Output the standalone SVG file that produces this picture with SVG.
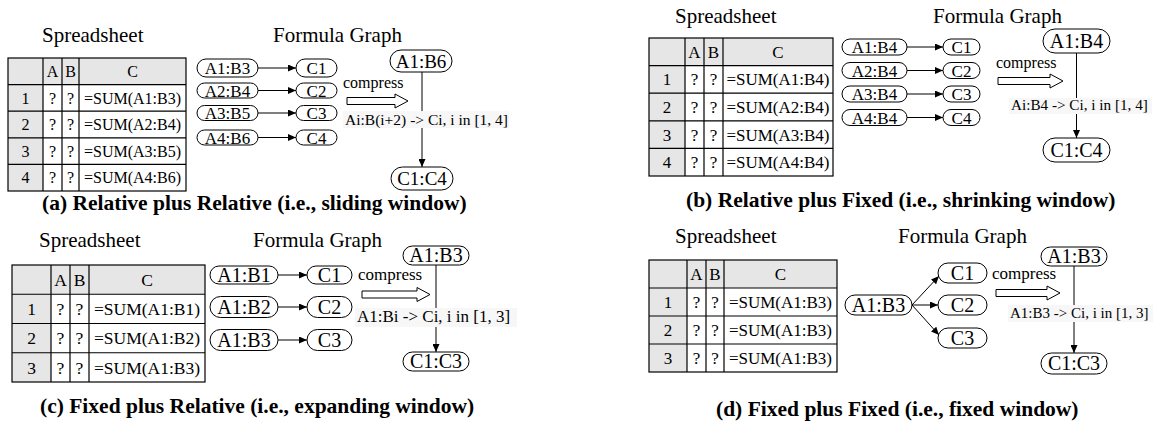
<svg xmlns="http://www.w3.org/2000/svg" width="1153" height="423" viewBox="0 0 1153 423" font-family="'Liberation Serif', 'Times New Roman', 'DejaVu Serif', serif">
<style>
.s{font-family:'Liberation Serif','Times New Roman','DejaVu Serif',serif}
.ttl{font-size:21px}
.cap{font-size:21.5px;font-weight:bold}
.tc{text-anchor:middle}
.hd{fill:#e6e6e6}
.gl{stroke:#000;stroke-width:1.2;fill:none}
.pill{fill:#fff;stroke:#000;stroke-width:1}
.edge{stroke:#000;stroke-width:1;fill:none;marker-end:url(#ah)}
.hol{fill:#fff;stroke:#000;stroke-width:1}
.lbg{fill:#f7f7f7}
</style>
<defs>
<marker id="ah" markerUnits="userSpaceOnUse" markerWidth="8" markerHeight="7" refX="8" refY="3.5" orient="auto"><path d="M0,0 L8,3.5 L0,7 z" fill="#000"/></marker>
</defs>

<!-- Panel (a) -->
<g id="panel-a" class="s">
<text class="ttl" x="42" y="42">Spreadsheet</text>
<text class="ttl" x="273" y="42">Formula Graph</text>
<g id="table-a" font-size="16">
<rect class="hd" x="8" y="58" width="178" height="26.6"/>
<rect class="hd" x="8" y="58" width="35" height="133"/>
<rect class="gl" x="8" y="58" width="178" height="133"/>
<path class="gl" d="M8,84.6H186M8,111.2H186M8,137.8H186M8,164.4H186M43,58V191M62,58V191M79,58V191"/>
<text class="tc" x="52.5" y="76.9">A</text><text class="tc" x="70.5" y="76.9">B</text><text class="tc" x="132.5" y="76.9">C</text>
<text class="tc" x="25.5" y="103.5">1</text><text class="tc" x="52.5" y="103.5">?</text><text class="tc" x="70.5" y="103.5">?</text><text class="tc" x="132.5" y="103.5">=SUM(A1:B3)</text>
<text class="tc" x="25.5" y="130.1">2</text><text class="tc" x="52.5" y="130.1">?</text><text class="tc" x="70.5" y="130.1">?</text><text class="tc" x="132.5" y="130.1">=SUM(A2:B4)</text>
<text class="tc" x="25.5" y="156.7">3</text><text class="tc" x="52.5" y="156.7">?</text><text class="tc" x="70.5" y="156.7">?</text><text class="tc" x="132.5" y="156.7">=SUM(A3:B5)</text>
<text class="tc" x="25.5" y="183.3">4</text><text class="tc" x="52.5" y="183.3">?</text><text class="tc" x="70.5" y="183.3">?</text><text class="tc" x="132.5" y="183.3">=SUM(A4:B6)</text>
</g>
<g id="a-A1B3"><rect class="pill" x="197" y="59" width="61" height="18" rx="9"/><text class="tc" x="227.5" y="74" font-size="17">A1:B3</text></g>
<g id="a-A2B4"><rect class="pill" x="197" y="83" width="61" height="15" rx="7.5"/><text class="tc" x="227.5" y="96.5" font-size="17">A2:B4</text></g>
<g id="a-A3B5"><rect class="pill" x="197" y="105.5" width="61" height="15" rx="7.5"/><text class="tc" x="227.5" y="119" font-size="17">A3:B5</text></g>
<g id="a-A4B6"><rect class="pill" x="197" y="130" width="61" height="15" rx="7.5"/><text class="tc" x="227.5" y="143.5" font-size="17">A4:B6</text></g>
<g id="a-C1"><rect class="pill" x="296" y="59" width="41" height="18" rx="9"/><text class="tc" x="316.5" y="74" font-size="17">C1</text></g>
<g id="a-C2"><rect class="pill" x="296" y="83" width="41" height="15" rx="7.5"/><text class="tc" x="316.5" y="96.5" font-size="17">C2</text></g>
<g id="a-C3"><rect class="pill" x="296" y="105.5" width="41" height="15" rx="7.5"/><text class="tc" x="316.5" y="119" font-size="17">C3</text></g>
<g id="a-C4"><rect class="pill" x="296" y="130" width="41" height="15" rx="7.5"/><text class="tc" x="316.5" y="143.5" font-size="17">C4</text></g>
<g id="a-A1B6"><rect class="pill" x="390" y="50" width="62" height="22" rx="11"/><text class="tc" x="421" y="67.5" font-size="19">A1:B6</text></g>
<g id="a-C1C4"><rect class="pill" x="391" y="167" width="62" height="23" rx="11.5"/><text class="tc" x="422" y="185" font-size="19">C1:C4</text></g>
<text x="343" y="88" font-size="16">compress</text>
<polygon class="hol" points="347,97.5 395,97.5 395,94 408,101 395,108 395,104.5 347,104.5"/>
</g>

<!-- Panel (b) -->
<g id="panel-b" class="s">
<text class="ttl" x="675" y="23">Spreadsheet</text>
<text class="ttl" x="933" y="23">Formula Graph</text>
<g id="table-b" font-size="17">
<rect class="hd" x="649" y="38" width="184" height="27.6"/>
<rect class="hd" x="649" y="38" width="36" height="138"/>
<rect class="gl" x="649" y="38" width="184" height="138"/>
<path class="gl" d="M649,65.6H833M649,93.2H833M649,120.8H833M649,148.4H833M685,38V176M704,38V176M723,38V176"/>
<text class="tc" x="694.5" y="57.8">A</text><text class="tc" x="713.5" y="57.8">B</text><text class="tc" x="778" y="57.8">C</text>
<text class="tc" x="667" y="85.4">1</text><text class="tc" x="694.5" y="85.4">?</text><text class="tc" x="713.5" y="85.4">?</text><text class="tc" x="778" y="85.4">=SUM(A1:B4)</text>
<text class="tc" x="667" y="113">2</text><text class="tc" x="694.5" y="113">?</text><text class="tc" x="713.5" y="113">?</text><text class="tc" x="778" y="113">=SUM(A2:B4)</text>
<text class="tc" x="667" y="140.6">3</text><text class="tc" x="694.5" y="140.6">?</text><text class="tc" x="713.5" y="140.6">?</text><text class="tc" x="778" y="140.6">=SUM(A3:B4)</text>
<text class="tc" x="667" y="168.2">4</text><text class="tc" x="694.5" y="168.2">?</text><text class="tc" x="713.5" y="168.2">?</text><text class="tc" x="778" y="168.2">=SUM(A4:B4)</text>
</g>
<g id="b-A1B4"><rect class="pill" x="842" y="39" width="65" height="16" rx="8"/><text class="tc" x="874.5" y="53" font-size="17">A1:B4</text></g>
<g id="b-A2B4"><rect class="pill" x="842" y="62.5" width="65" height="16" rx="8"/><text class="tc" x="874.5" y="76.5" font-size="17">A2:B4</text></g>
<g id="b-A3B4"><rect class="pill" x="842" y="86" width="65" height="16" rx="8"/><text class="tc" x="874.5" y="100" font-size="17">A3:B4</text></g>
<g id="b-A4B4"><rect class="pill" x="842" y="109.5" width="65" height="16" rx="8"/><text class="tc" x="874.5" y="123.5" font-size="17">A4:B4</text></g>
<g id="b-C1"><rect class="pill" x="943" y="39" width="37" height="16" rx="8"/><text class="tc" x="961.5" y="53" font-size="17">C1</text></g>
<g id="b-C2"><rect class="pill" x="943" y="62.5" width="37" height="16" rx="8"/><text class="tc" x="961.5" y="76.5" font-size="17">C2</text></g>
<g id="b-C3"><rect class="pill" x="943" y="86" width="37" height="16" rx="8"/><text class="tc" x="961.5" y="100" font-size="17">C3</text></g>
<g id="b-C4"><rect class="pill" x="943" y="109.5" width="37" height="16" rx="8"/><text class="tc" x="961.5" y="123.5" font-size="17">C4</text></g>
<g id="b-A1B4-big"><rect class="pill" x="1043" y="29" width="67" height="24" rx="12"/><text class="tc" x="1076.5" y="48" font-size="20">A1:B4</text></g>
<g id="b-C1C4"><rect class="pill" x="1043" y="138" width="67" height="24" rx="12"/><text class="tc" x="1076.5" y="157" font-size="20">C1:C4</text></g>
<text x="996" y="68" font-size="16">compress</text>
<polygon class="hol" points="998,77.5 1050,77.5 1050,74 1063,81 1050,88 1050,84.5 998,84.5"/>
</g>

<!-- Panel (c) -->
<g id="panel-c" class="s">
<text class="ttl" x="39" y="247">Spreadsheet</text>
<text class="ttl" x="253" y="247">Formula Graph</text>
<g id="table-c" font-size="17.5">
<rect class="hd" x="12" y="265" width="193" height="29.25"/>
<rect class="hd" x="12" y="265" width="39" height="117"/>
<rect class="gl" x="12" y="265" width="193" height="117"/>
<path class="gl" d="M12,294.25H205M12,323.5H205M12,352.75H205M51,265V382M70,265V382M89,265V382"/>
<text class="tc" x="60.5" y="285.7">A</text><text class="tc" x="79.5" y="285.7">B</text><text class="tc" x="147" y="285.7">C</text>
<text class="tc" x="31.5" y="315">1</text><text class="tc" x="60.5" y="315">?</text><text class="tc" x="79.5" y="315">?</text><text class="tc" x="147" y="315">=SUM(A1:B1)</text>
<text class="tc" x="31.5" y="344.2">2</text><text class="tc" x="60.5" y="344.2">?</text><text class="tc" x="79.5" y="344.2">?</text><text class="tc" x="147" y="344.2">=SUM(A1:B2)</text>
<text class="tc" x="31.5" y="373.5">3</text><text class="tc" x="60.5" y="373.5">?</text><text class="tc" x="79.5" y="373.5">?</text><text class="tc" x="147" y="373.5">=SUM(A1:B3)</text>
</g>
<g id="c-A1B1"><rect class="pill" x="210" y="266" width="68" height="18" rx="9"/><text class="tc" x="244" y="282" font-size="20">A1:B1</text></g>
<g id="c-A1B2"><rect class="pill" x="210" y="296.5" width="68" height="21" rx="10.5"/><text class="tc" x="244" y="314" font-size="20">A1:B2</text></g>
<g id="c-A1B3"><rect class="pill" x="210" y="329.5" width="68" height="21" rx="10.5"/><text class="tc" x="244" y="347" font-size="20">A1:B3</text></g>
<g id="c-C1"><rect class="pill" x="307" y="266" width="45" height="18" rx="9"/><text class="tc" x="329.5" y="282" font-size="20">C1</text></g>
<g id="c-C2"><rect class="pill" x="307" y="296.5" width="45" height="21" rx="10.5"/><text class="tc" x="329.5" y="314" font-size="20">C2</text></g>
<g id="c-C3"><rect class="pill" x="307" y="329.5" width="45" height="21" rx="10.5"/><text class="tc" x="329.5" y="347" font-size="20">C3</text></g>
<g id="c-A1B3-big"><rect class="pill" x="403" y="246" width="66" height="19" rx="9.5"/><text class="tc" x="436" y="262" font-size="20">A1:B3</text></g>
<g id="c-C1C3"><rect class="pill" x="403" y="352" width="66" height="19" rx="9.5"/><text class="tc" x="436" y="368" font-size="20">C1:C3</text></g>
<text x="358" y="280" font-size="17">compress</text>
<polygon class="hol" points="362,291 417,291 417,287.5 430,294.5 417,301.5 417,298 362,298"/>
</g>

<!-- Panel (d) -->
<g id="panel-d" class="s">
<text class="ttl" x="675" y="243">Spreadsheet</text>
<text class="ttl" x="898" y="243">Formula Graph</text>
<g id="table-d" font-size="17">
<rect class="hd" x="649" y="260" width="188" height="28"/>
<rect class="hd" x="649" y="260" width="38" height="112"/>
<rect class="gl" x="649" y="260" width="188" height="112"/>
<path class="gl" d="M649,288H837M649,316H837M649,344H837M687,260V372M706,260V372M724,260V372"/>
<text class="tc" x="696.5" y="280">A</text><text class="tc" x="715" y="280">B</text><text class="tc" x="780.5" y="280">C</text>
<text class="tc" x="668" y="308">1</text><text class="tc" x="696.5" y="308">?</text><text class="tc" x="715" y="308">?</text><text class="tc" x="780.5" y="308">=SUM(A1:B3)</text>
<text class="tc" x="668" y="336">2</text><text class="tc" x="696.5" y="336">?</text><text class="tc" x="715" y="336">?</text><text class="tc" x="780.5" y="336">=SUM(A1:B3)</text>
<text class="tc" x="668" y="364">3</text><text class="tc" x="696.5" y="364">?</text><text class="tc" x="715" y="364">?</text><text class="tc" x="780.5" y="364">=SUM(A1:B3)</text>
</g>
<g id="d-A1B3"><rect class="pill" x="845" y="295" width="67" height="20" rx="10"/><text class="tc" x="878.5" y="312" font-size="20">A1:B3</text></g>
<g id="d-C1"><rect class="pill" x="938" y="263" width="49" height="20" rx="10"/><text class="tc" x="962.5" y="280" font-size="20">C1</text></g>
<g id="d-C2"><rect class="pill" x="938" y="295" width="49" height="20" rx="10"/><text class="tc" x="962.5" y="312" font-size="20">C2</text></g>
<g id="d-C3"><rect class="pill" x="938" y="328" width="49" height="20" rx="10"/><text class="tc" x="962.5" y="345" font-size="20">C3</text></g>
<g id="d-A1B3-big"><rect class="pill" x="1041" y="247" width="66" height="19" rx="9.5"/><text class="tc" x="1074" y="263" font-size="20">A1:B3</text></g>
<g id="d-C1C3"><rect class="pill" x="1041" y="353" width="66" height="21" rx="10.5"/><text class="tc" x="1074" y="370" font-size="20">C1:C3</text></g>
<text x="992" y="279" font-size="17">compress</text>
<polygon class="hol" points="996,289.5 1047,289.5 1047,286 1060,293 1047,300 1047,296.5 996,296.5"/>
</g>

<!-- Connectors -->
<g id="connectors">
<path class="edge" d="M258,68H296"/>
<path class="edge" d="M258,90.5H296"/>
<path class="edge" d="M258,113H296"/>
<path class="edge" d="M258,137.5H296"/>
<path class="edge" d="M422,72V167"/>
<path class="edge" d="M907,47H943"/>
<path class="edge" d="M907,70.5H943"/>
<path class="edge" d="M907,94H943"/>
<path class="edge" d="M907,117.5H943"/>
<path class="edge" d="M1076.5,53V138"/>
<path class="edge" d="M278,275H307"/>
<path class="edge" d="M278,307H307"/>
<path class="edge" d="M278,340H307"/>
<path class="edge" d="M436,265V352"/>
<path class="edge" d="M912,305L939,276"/>
<path class="edge" d="M912,305H938"/>
<path class="edge" d="M912,305L939,335"/>
<path class="edge" d="M1074,266V353"/>
</g>

<!-- Edge labels -->
<g id="edge-labels" class="s">
<rect class="lbg" x="343" y="111" width="166" height="17"/>
<text x="345" y="125" font-size="15.5">Ai:B(i+2) -&gt; Ci, i in [1, 4]</text>
<rect class="lbg" x="1009" y="98" width="143" height="16"/>
<text x="1011" y="110" font-size="15.2">Ai:B4 -&gt; Ci, i in [1, 4]</text>
<rect class="lbg" x="355" y="308" width="162" height="19"/>
<text x="357" y="322" font-size="17">A1:Bi -&gt; Ci, i in [1, 3]</text>
<rect class="lbg" x="1008" y="305" width="145" height="17"/>
<text x="1010" y="318" font-size="15">A1:B3 -&gt; Ci, i in [1, 3]</text>
</g>

<!-- Captions -->
<g id="captions" class="s">
<text class="cap" x="42" y="210">(a) Relative plus Relative (i.e., sliding window)</text>
<text class="cap" x="686" y="207">(b) Relative plus Fixed (i.e., shrinking window)</text>
<text class="cap" x="40" y="413">(c) Fixed plus Relative (i.e., expanding window)</text>
<text class="cap" x="716" y="416">(d) Fixed plus Fixed (i.e., fixed window)</text>
</g>
</svg>
